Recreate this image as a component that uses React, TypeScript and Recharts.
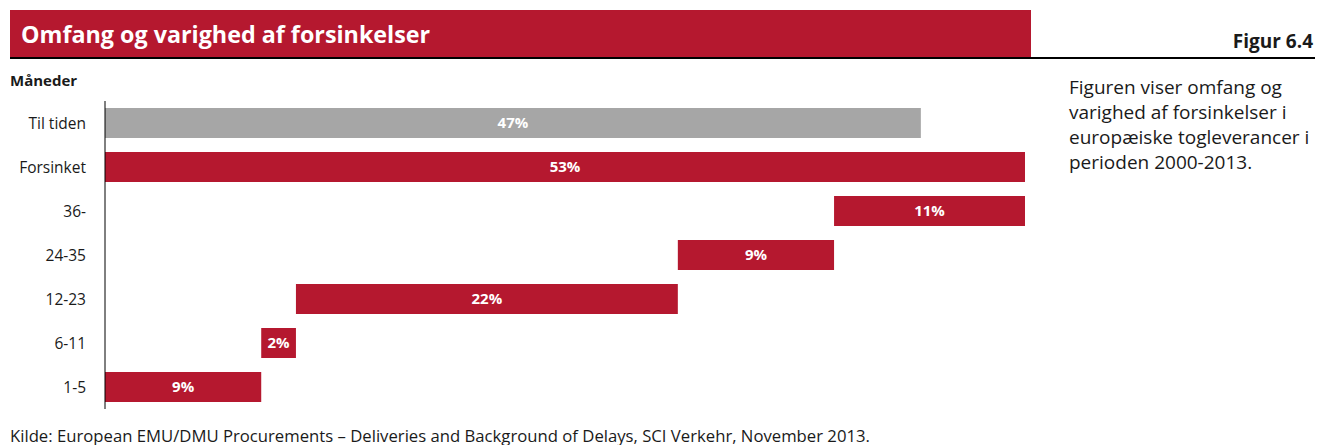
import { BarChart, Bar, XAxis, YAxis, Cell, LabelList } from 'recharts'

const categories = ['Til tiden', 'Forsinket', '36-', '24-35', '12-23', '6-11', '1-5']
const offsets = [0, 0, 42, 33, 11, 9, 0]
const shares = [47, 53, 11, 9, 22, 2, 9]

const RED = '#B5182F'
const GREY = '#A6A6A6'
const FONT = '"Open Sans", "Noto Sans", sans-serif'

const chartData = categories.map((name, i) => ({
  name,
  offset: offsets[i],
  value: shares[i],
}))

export default function App() {
  return (
    <div
      style={{
        position: 'absolute',
        left: 0,
        top: 0,
        width: 1319,
        height: 445,
        background: '#fff',
        fontFamily: FONT,
        color: '#1a1a1a',
      }}
    >
      {/* title band */}
      <div
        style={{
          position: 'absolute',
          left: 10,
          top: 10,
          width: 1021,
          height: 47,
          background: RED,
          color: '#fff',
          fontWeight: 700,
          fontSize: 23.3,
          lineHeight: '49px',
          paddingLeft: 11,
          boxSizing: 'border-box',
        }}
      >
        Omfang og varighed af forsinkelser
      </div>
      <div
        style={{
          position: 'absolute',
          right: 6,
          top: 29,
          fontWeight: 700,
          fontSize: 19,
          lineHeight: '24px',
        }}
      >
        Figur 6.4
      </div>
      <div
        style={{
          position: 'absolute',
          left: 10,
          top: 57,
          width: 1305,
          height: 1.5,
          background: '#000',
        }}
      />
      <div
        style={{
          position: 'absolute',
          left: 10,
          top: 69,
          fontWeight: 700,
          fontSize: 15,
          lineHeight: '22px',
        }}
      >
        Måneder
      </div>
      <div
        style={{
          position: 'absolute',
          left: 1069,
          top: 75,
          width: 250,
          fontSize: 19,
          lineHeight: '25px',
        }}
      >
        Figuren viser omfang og
        <br />
        varighed af forsinkelser i
        <br />
        europæiske togleverancer i
        <br />
        perioden 2000-2013.
      </div>

      <div style={{ position: 'absolute', left: 0, top: 0 }}>
        <BarChart
          width={1040}
          height={420}
          data={chartData}
          layout="vertical"
          barSize={30}
          margin={{ top: 101, right: 15, bottom: 11, left: 0 }}
        >
          <XAxis type="number" domain={[0, 53]} hide />
          <YAxis
            type="category"
            dataKey="name"
            width={105}
            tickLine={false}
            axisLine={{ stroke: '#000', strokeWidth: 1 }}
            tickMargin={13}
            tick={{ fill: '#1a1a1a', fontSize: 15.5, fontFamily: FONT }}
          />
          <Bar dataKey="offset" stackId="a" fill="transparent" isAnimationActive={false} />
          <Bar dataKey="value" stackId="a" isAnimationActive={false}>
            {chartData.map((d, i) => (
              <Cell key={d.name} fill={i === 0 ? GREY : RED} />
            ))}
            <LabelList
              dataKey="value"
              position="center"
              formatter={(v: number) => `${v}%`}
              style={{ fill: '#fff', fontWeight: 700, fontSize: 15, fontFamily: FONT }}
            />
          </Bar>
        </BarChart>
      </div>

      <div
        style={{
          position: 'absolute',
          left: 10,
          top: 425,
          fontSize: 16.7,
          lineHeight: '22px',
          whiteSpace: 'nowrap',
        }}
      >
        Kilde: European EMU/DMU Procurements – Deliveries and Background of Delays, SCI Verkehr, November 2013.
      </div>
    </div>
  )
}
